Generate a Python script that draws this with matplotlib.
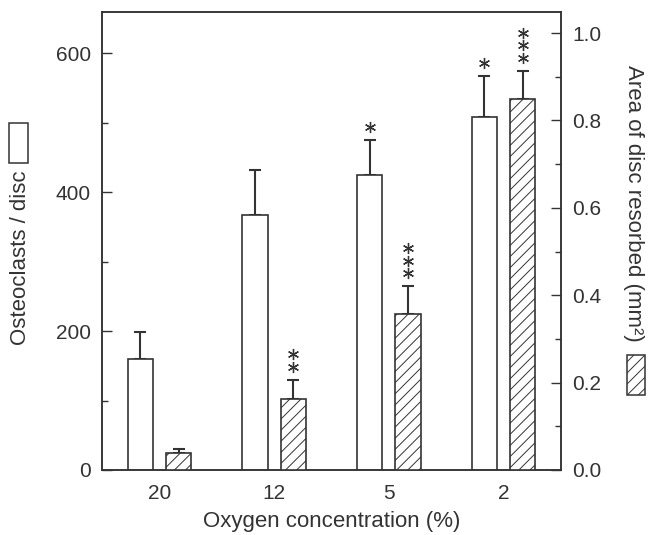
import matplotlib
matplotlib.use("Agg")
import matplotlib.pyplot as plt
from matplotlib.patches import Rectangle
from matplotlib.ticker import MultipleLocator, FormatStrFormatter
from matplotlib.transforms import offset_copy
import numpy as np

plt.rcParams['font.family'] = ['Liberation Sans', 'DejaVu Sans']
plt.rcParams['hatch.linewidth'] = 0.7

oxygen = ['20', '12', '5', '2']
osteoclasts = [160, 367, 424, 508]
osteoclasts_err = [39, 65, 51, 59]
resorbed = [0.039, 0.162, 0.357, 0.849]
resorbed_err = [0.009, 0.044, 0.063, 0.064]
osteo_stars = [0, 0, 1, 1]
resorb_stars = [0, 2, 3, 3]

ink = '#333333'
x = np.arange(len(oxygen))
w = 0.22
off = 0.167

fig = plt.figure(figsize=(6.5, 5.35), dpi=100)
ax = fig.add_axes([0.157, 0.1215, 0.706, 0.856])
ax2 = ax.twinx()

ax.bar(x - off, osteoclasts, w, color='white', edgecolor=ink, linewidth=1.2, zorder=3)
ax.errorbar(x - off, osteoclasts, yerr=[np.zeros(4), osteoclasts_err], fmt='none',
            ecolor=ink, elinewidth=1.5, capsize=4, capthick=1.5, zorder=2)
ax2.bar(x + off, resorbed, w, color='white', edgecolor=ink, linewidth=1.2,
        hatch='///', zorder=3)
ax2.errorbar(x + off, resorbed, yerr=[np.zeros(4), resorbed_err], fmt='none',
             ecolor=ink, elinewidth=1.5, capsize=4, capthick=1.5, zorder=2)


def stars(a, xs, tops, counts):
    # asterisks stacked above the error bar caps
    for xi, t, n in zip(xs, tops, counts):
        for k in range(n):
            tr = offset_copy(a.transData, fig=fig, x=0, y=9.5 + 9.0 * k, units='points')
            a.plot([xi], [t], marker=(6, 2, 0), ms=8, mew=0.95, color=ink,
                   transform=tr, clip_on=False)


stars(ax, x - off, np.add(osteoclasts, osteoclasts_err), osteo_stars)
stars(ax2, x + off, np.add(resorbed, resorbed_err), resorb_stars)

ax.set_xlim(-0.5, 3.5)
ax.set_ylim(0, 659)
ax2.set_ylim(0, 1.048)
ax.set_xticks(x)
ax.set_xticklabels(oxygen)
ax.yaxis.set_major_locator(MultipleLocator(200))
ax.yaxis.set_minor_locator(MultipleLocator(100))
ax2.yaxis.set_major_locator(MultipleLocator(0.2))
ax2.yaxis.set_minor_locator(MultipleLocator(0.1))
ax2.yaxis.set_major_formatter(FormatStrFormatter('%.1f'))

for a in (ax, ax2):
    a.tick_params(axis='y', which='major', direction='in', length=7, width=1,
                  colors=ink, labelsize=15, pad=8)
    a.tick_params(axis='y', which='minor', direction='in', length=4, width=1, colors=ink)
    for sp in a.spines.values():
        sp.set_color(ink)
        sp.set_linewidth(1.1)
ax.tick_params(axis='x', length=0, labelsize=15, colors=ink, pad=10)

ax.set_xlabel('Oxygen concentration (%)', fontsize=16, color=ink, labelpad=6)

fig.text(0.031, 0.518, 'Osteoclasts / disc', rotation=90, ha='center', va='center',
         fontsize=16, color=ink)
fig.text(0.975, 0.62, 'Area of disc resorbed (mm²)', rotation=270, ha='center',
         va='center', fontsize=16, color=ink)

fig.patches.append(Rectangle((0.0138, 0.695), 0.029, 0.0748, transform=fig.transFigure,
                             facecolor='white', edgecolor=ink, linewidth=1.1))
fig.patches.append(Rectangle((0.9646, 0.2617), 0.0277, 0.0748, transform=fig.transFigure,
                             facecolor='white', edgecolor=ink, linewidth=1.1, hatch='///'))

fig.savefig('out.png', dpi=100)
